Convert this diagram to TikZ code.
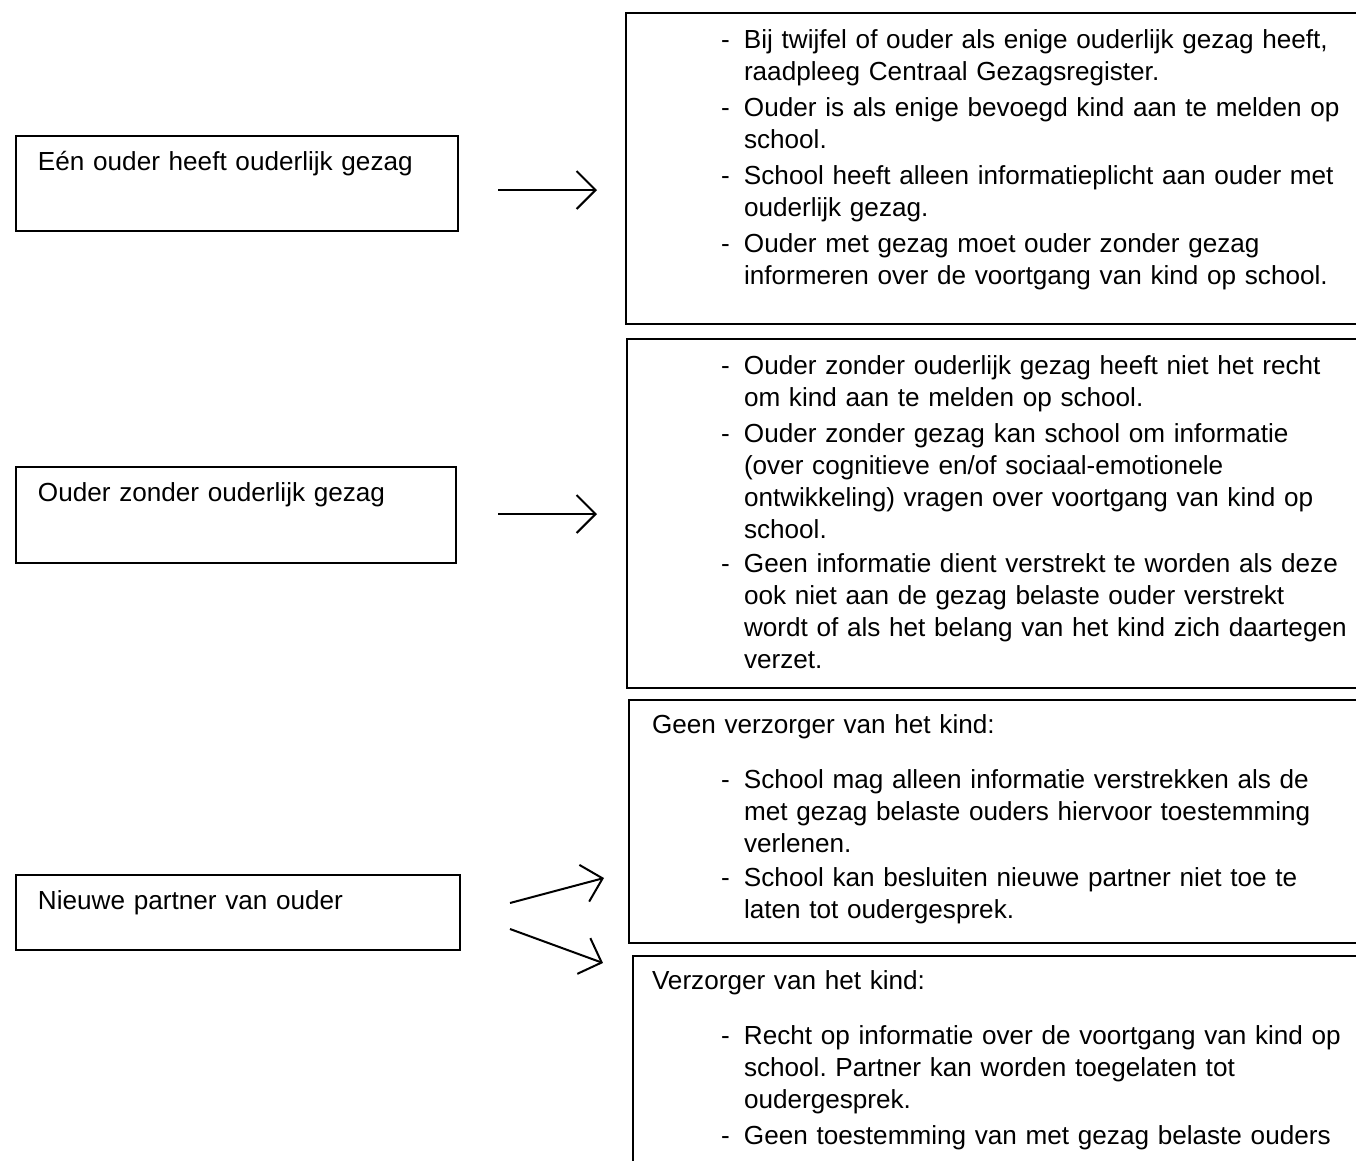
\documentclass[tikz,border=0pt]{standalone}
\usepackage{fontspec}
\setmainfont{Liberation Sans}
\usepackage{tikz}
\usetikzlibrary{arrows.meta,positioning,calc}
\frenchspacing

\begin{document}
\begin{tikzpicture}[
    x=0.4pt, y=-0.4pt,
    font=\fontsize{10.45pt}{12.8pt}\selectfont,
    box/.style={rectangle, draw, line width=0.8pt, anchor=north west, inner ysep=0pt, align=left},
    leftbox/.style={box, inner xsep=8.8pt, text height=13.6pt},
    rightbox/.style={box, text width=340pt, text height=14pt},
    connector/.style={line width=0.8pt, -{Straight Barb[length=7.6pt, width=15.2pt]}}
]
    \path[use as bounding box, clip] (0,0) rectangle (1356,1161);

    % Situations
    \node[leftbox, text width=159.2pt, text depth=24.4pt] (l1) at (15,135) {Eén ouder heeft ouderlijk gezag};
    \node[leftbox, text width=158.4pt, text depth=24.8pt] (l2) at (15,466) {Ouder zonder ouderlijk gezag};
    \node[leftbox, text width=160pt, text depth=16.4pt] (l3) at (15,874) {Nieuwe partner van ouder};

    % Rules
    \node[rightbox, inner xsep=38pt, text depth=110.4pt] (r1) at (625,12) {%
        \begin{tabular}[t]{@{}p{9.2pt}@{}l@{}}
        - & Bij twijfel of ouder als enige ouderlijk gezag heeft,\\
          & raadpleeg Centraal Gezagsregister.\\[1.6pt]
        - & Ouder is als enige bevoegd kind aan te melden op\\
          & school.\\[1.6pt]
        - & School heeft alleen informatieplicht aan ouder met\\
          & ouderlijk gezag.\\[1.6pt]
        - & Ouder met gezag moet ouder zonder gezag\\
          & informeren over de voortgang van kind op school.
        \end{tabular}};
    \node[rightbox, inner xsep=37.6pt, text depth=125.6pt] (r2) at (626,338) {%
        \begin{tabular}[t]{@{}p{9.2pt}@{}l@{}}
        - & Ouder zonder ouderlijk gezag heeft niet het recht\\
          & om kind aan te melden op school.\\[1.6pt]
        - & Ouder zonder gezag kan school om informatie\\
          & (over cognitieve en/of sociaal-emotionele\\
          & ontwikkeling) vragen over voortgang van kind op\\
          & school.\\[1pt]
        - & Geen informatie dient verstrekt te worden als deze\\
          & ook niet aan de gezag belaste ouder verstrekt\\
          & wordt of als het belang van het kind zich daartegen\\
          & verzet.
        \end{tabular}};
    \node[rightbox, inner xsep=9.2pt, text height=13.2pt, text depth=84pt] (r3) at (628,699) {%
        \begin{tabular}[t]{@{\hspace{27.6pt}}p{9.2pt}@{}l@{}}
        \multicolumn{2}{@{}l@{}}{Geen verzorger van het kind:}\\[9.2pt]
        - & School mag alleen informatie verstrekken als de\\
          & met gezag belaste ouders hiervoor toestemming\\
          & verlenen.\\[1pt]
        - & School kan besluiten nieuwe partner niet toe te\\
          & laten tot oudergesprek.
        \end{tabular}};
    \node[rightbox, inner xsep=7.6pt, text height=13.2pt, text depth=84.8pt] (r4) at (632,955) {%
        \begin{tabular}[t]{@{\hspace{27.6pt}}p{9.2pt}@{}l@{}}
        \multicolumn{2}{@{}l@{}}{Verzorger van het kind:}\\[9.2pt]
        - & Recht op informatie over de voortgang van kind op\\
          & school. Partner kan worden toegelaten tot\\
          & oudergesprek.\\[1.6pt]
        - & Geen toestemming van met gezag belaste ouders
        \end{tabular}};

    % Arrow ends
    \coordinate (s1) at ($(l1.north east)+(39,55)$);
    \coordinate (e1) at ($(r1.north west)+(-28,178)$);
    \coordinate (s2) at ($(l2.north east)+(41,48)$);
    \coordinate (e2) at ($(r2.north west)+(-29,176)$);
    \coordinate (s3) at ($(l3.north east)+(49,29)$);
    \coordinate (e3) at ($(r3.south west)+(-24,-66)$);
    \coordinate (s4) at ($(l3.north east)+(49,55)$);
    \coordinate (e4) at ($(r4.north west)+(-29,8)$);

    % Arrows
    \draw[connector] (s1) -- (e1);
    \draw[connector] (s2) -- (e2);
    \draw[connector] (s3) -- (e3);
    \draw[connector] (s4) -- (e4);
\end{tikzpicture}
\end{document}
